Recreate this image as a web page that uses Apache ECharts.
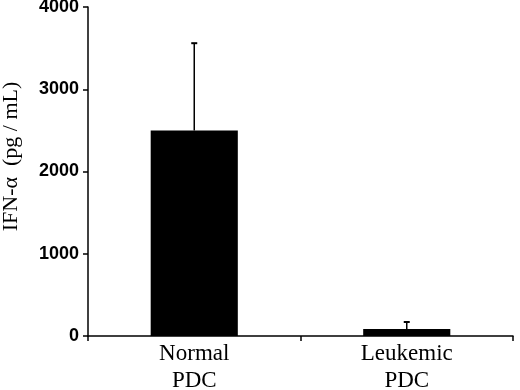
<!DOCTYPE html>
<html>
<head>
<meta charset="utf-8">
<script src="https://cdn.jsdelivr.net/npm/echarts@6/dist/echarts.min.js"></script>
<style>
  html, body { margin: 0; padding: 0; background: #fff; }
  #chart { width: 520px; height: 390px; }
</style>
</head>
<body>
<div id="chart"></div>
<script>
const categories = ['Normal\nPDC', 'Leukemic\nPDC'];
const means = [2500, 85];
const errTop = [3560, 170];
const yTicks = [0, 1000, 2000, 3000, 4000];

const chart = echarts.init(document.getElementById('chart'));

chart.setOption({
  animation: false,
  grid: { left: 88, right: 7, top: 7, bottom: 54, outerBoundsMode: 'none', containLabel: false },
  xAxis: {
    type: 'category',
    data: categories,
    boundaryGap: true,
    axisLine: { lineStyle: { color: '#000', width: 1.5 } },
    axisTick: { show: true, length: 5, lineStyle: { color: '#000', width: 1.5 } },
    axisLabel: {
      color: '#000',
      fontFamily: 'Liberation Serif',
      fontSize: 23,
      lineHeight: 27,
      margin: 4
    }
  },
  yAxis: {
    type: 'value',
    min: yTicks[0],
    max: yTicks[yTicks.length - 1],
    interval: 1000,
    name: 'IFN-α  (pg / mL)',
    nameLocation: 'middle',
    nameGap: 66,
    nameTextStyle: {
      color: '#000', fontFamily: 'Liberation Serif', fontSize: 22,
      padding: [0, 0, 0, 30]
    },
    splitLine: { show: false },
    axisLine: { show: true, lineStyle: { color: '#000', width: 1.5 } },
    axisTick: { show: true, length: 5, lineStyle: { color: '#000', width: 1.5 } },
    axisLabel: {
      color: '#000',
      fontFamily: 'Liberation Sans',
      fontWeight: 'bold',
      fontSize: 18,
      margin: 9,
      formatter: v => String(v)
    }
  },
  series: [
    {
      type: 'bar',
      data: means,
      barWidth: '41%',
      itemStyle: { color: '#000' },
      z: 2
    },
    {
      type: 'custom',
      data: errTop.map((v, i) => [i, means[i], v]),
      z: 3,
      renderItem(params, api) {
        const base = api.coord([api.value(0), api.value(1)]);
        const top = api.coord([api.value(0), api.value(2)]);
        return {
          type: 'group',
          children: [
            { type: 'line', shape: { x1: base[0], y1: base[1], x2: top[0], y2: top[1] },
              style: { stroke: '#000', lineWidth: 1.5 } },
            { type: 'line', shape: { x1: top[0] - 3, y1: top[1], x2: top[0] + 3, y2: top[1] },
              style: { stroke: '#000', lineWidth: 2 } }
          ]
        };
      }
    }
  ]
});
</script>
</body>
</html>
